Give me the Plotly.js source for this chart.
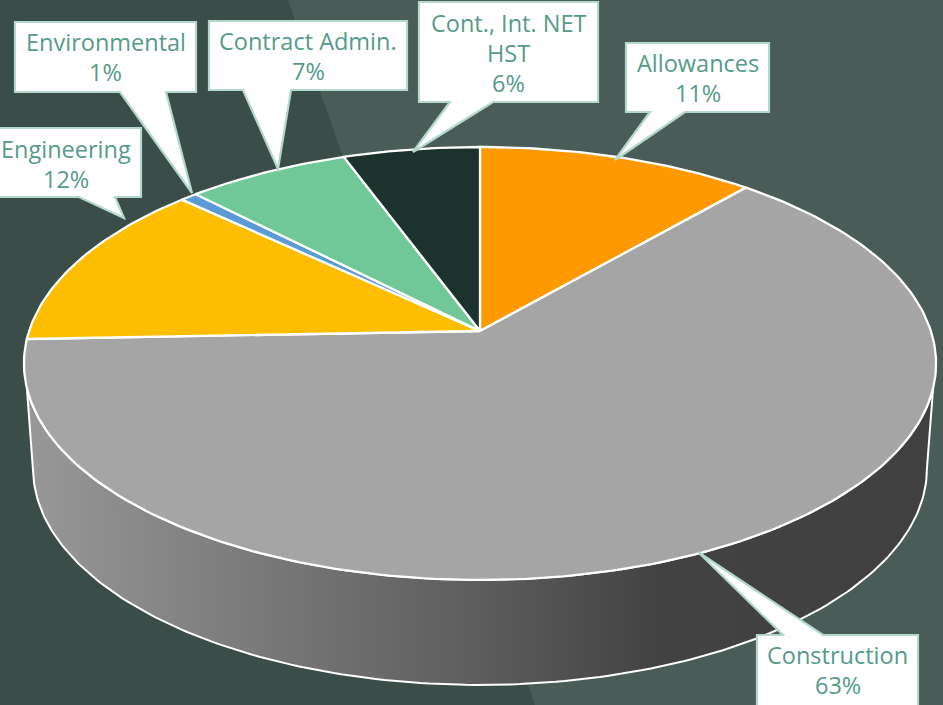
<!DOCTYPE html>
<html><head><meta charset="utf-8">
<script src="https://cdn.plot.ly/plotly-3.0.1.min.js"></script>
<style>html,body{margin:0;padding:0;background:#3a4d48;overflow:hidden}#c{width:943px;height:705px}</style>
</head><body><div id="c"></div>
<script>
// Data, clockwise from 12 o'clock
var categories = ["Allowances","Construction","Engineering","Environmental","Contract Admin.","Cont., Int. NET<br>HST"];
var shares     = [11.4, 63.0, 12.6, 0.7, 6.7, 5.6];
var pctLabels  = ["11%","63%","12%","1%","7%","6%"];
var sliceColors= ["#FF9900","#A5A5A5","#FDBD00","#5B9BD5","#70C797","#1C332D"];

// Pie perspective (pixel space)
var cx=480, cy=331, ax=450.9, ay=211.6, persp=0.15;
var depth=105, baseScale=0.98;

function project(theta, sx, dy){
  var u=Math.sin(theta), v=Math.cos(theta), w=1+persp*v;
  return [cx+sx*ax*u/w, cy+dy-ay*v/w];
}
function rad(d){return d*Math.PI/180;}

var traces=[];
// side wall
var wx=[],wy=[],t,p;
for(t=98.6;t<=261.4;t+=1){p=project(rad(t),baseScale,depth);wx.push(p[0]);wy.push(p[1]);}
for(t=255;t>=105;t-=1){p=project(rad(t),1,0);wx.push(p[0]);wy.push(p[1]);}
wx.push(wx[0]);wy.push(wy[0]);
traces.push({type:'scatter',mode:'lines',x:wx,y:wy,fill:'toself',
  line:{color:'#ffffff',width:2},hoverinfo:'skip',
  fillgradient:{type:'horizontal',colorscale:[[0,'#989898'],[0.1,'#8c8c8c'],[0.3,'#747474'],[0.49,'#5e5e5e'],[0.7,'#424242'],[1,'#404040']]}});

// top slices
var start=0;
shares.forEach(function(s,i){
  var end=start+s*3.6,xs=[cx],ys=[cy],n=Math.max(4,Math.ceil(s*3.6));
  for(var k=0;k<=n;k++){var q=project(rad(start+(end-start)*k/n),1,0);xs.push(q[0]);ys.push(q[1]);}
  xs.push(cx);ys.push(cy);
  traces.push({type:'scatter',mode:'lines',x:xs,y:ys,fill:'toself',fillcolor:sliceColors[i],
    line:{color:'#ffffff',width:2.3},name:categories[i].replace('<br>',' '),
    text:pctLabels[i],hoverinfo:'name+text',hoveron:'fills'});
  start=end;
});

// callouts: box [left, right, top, bottom], wedge base, tip, first text line y
var callouts=[
 {b:[626,769,43,112],w:[650,685],tip:[615,160],side:'bottom',ty:63},
 {b:[757,918,635,712],w:[783,823],tip:[698,552],side:'top',ty:655},
 {b:[-5,141,128,197],w:[79,115],tip:[124,218],side:'bottom',tx:65.5,ty:148.5},
 {b:[15,196,22,92],w:[120,166],tip:[192,193],side:'bottom',ty:42},
 {b:[209,407,21,90],w:[243,291],tip:[278,169],side:'bottom',ty:41},
 {b:[419,598,2,102],w:[450,493],tip:[413,152],side:'bottom',ty:23}
];
var lineGap=30;
var shapes=[
 {type:'path',layer:'below',path:'M288,0 L535,705 L943,705 L943,0 Z',fillcolor:'#4a5c57',line:{width:0}}
];
var annotations=[];
callouts.forEach(function(c,i){
  var b=c.b,path;
  if(c.side==='bottom'){
    path='M'+b[0]+','+b[2]+' L'+b[1]+','+b[2]+' L'+b[1]+','+b[3]+' L'+c.w[1]+','+b[3]+' L'+c.tip[0]+','+c.tip[1]+' L'+c.w[0]+','+b[3]+' L'+b[0]+','+b[3]+' Z';
  }else{
    path='M'+b[0]+','+b[2]+' L'+c.w[0]+','+b[2]+' L'+c.tip[0]+','+c.tip[1]+' L'+c.w[1]+','+b[2]+' L'+b[1]+','+b[2]+' L'+b[1]+','+b[3]+' L'+b[0]+','+b[3]+' Z';
  }
  shapes.push({type:'path',layer:'above',path:path,fillcolor:'#ffffff',line:{color:'#b4d8cd',width:2.2}});
  var lines=categories[i].split('<br>').concat([pctLabels[i]]);
  lines.forEach(function(txt,j){
    annotations.push({x:c.tx!==undefined?c.tx:(b[0]+b[1])/2,y:c.ty+j*lineGap,xref:'x',yref:'y',xanchor:'center',yanchor:'middle',
      showarrow:false,align:'center',text:txt,
      font:{family:'"Open Sans", sans-serif',size:23.5,color:'#559b89'}});
  });
});

Plotly.newPlot('c',traces,{
  width:943,height:705,margin:{l:0,r:0,t:0,b:0},showlegend:false,
  paper_bgcolor:'#3a4d48',plot_bgcolor:'rgba(0,0,0,0)',
  xaxis:{range:[0,943],visible:false,fixedrange:true},
  yaxis:{range:[705,0],visible:false,fixedrange:true},
  shapes:shapes,annotations:annotations
},{displayModeBar:false,responsive:false});
</script></body></html>
